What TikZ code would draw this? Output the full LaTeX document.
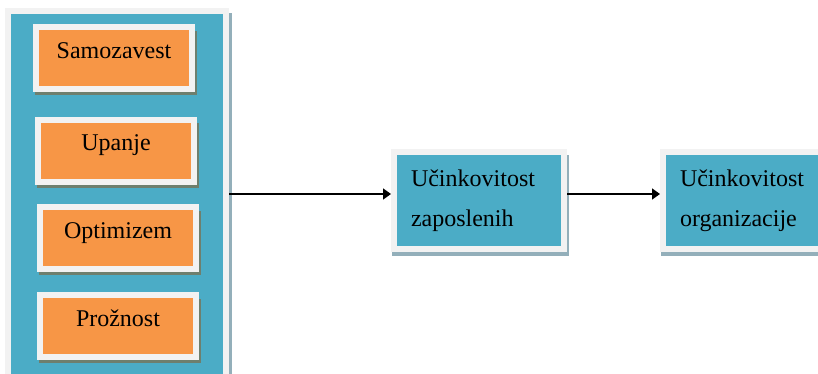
\documentclass[tikz,border=0pt]{standalone}
\usepackage{fontspec}
\setmainfont{Liberation Serif}
\usetikzlibrary{shadows,arrows.meta}

\definecolor{boxblue}{HTML}{4BACC6}
\definecolor{boxorange}{HTML}{F79646}
\definecolor{framegray}{HTML}{F2F2F2}
\definecolor{shadowgreen}{HTML}{6E7F6E}
\definecolor{shadowblue}{HTML}{93AFBA}

\begin{document}
\begin{tikzpicture}[x=1pt, y=-1pt,
    panel/.style = {draw=framegray, line width=6pt, fill=boxblue, minimum width=218pt, minimum height=389pt,
        drop shadow={shadow xshift=6pt, shadow yshift=-2pt, fill=shadowblue, opacity=1}},
    trait/.style = {draw=framegray, line width=6pt, fill=boxorange, minimum width=156pt, minimum height=62pt,
        font=\fontsize{24}{40}\selectfont, text height=16pt, text depth=16pt,
        drop shadow={shadow xshift=2pt, shadow yshift=-5pt, shadow scale=1.04, fill=shadowgreen, opacity=1}},
    outcome/.style = {draw=framegray, line width=6pt, fill=boxblue, minimum width=170pt, minimum height=97pt,
        font=\fontsize{24}{40}\selectfont, align=left, text width=136pt, inner xsep=17pt,
        drop shadow={shadow xshift=1.6pt, shadow yshift=-5pt, shadow scale=1.04, fill=shadowblue, opacity=1}},
    link/.style = {line width=1.5pt, -{Triangle[length=8pt, width=11pt]}}]

    \useasboundingbox (0,0) rectangle (818,373);
    \clip (0,0) rectangle (818,373);

    % Levi panel s štirimi lastnostmi
    \node[panel] (panel) at (117,205.5) {};
    \node[trait] (A) at (114,58) {Samozavest};
    \node[trait] (B) at (116,150.5) {Upanje};
    \node[trait] (C) at (118,238) {Optimizem};
    \node[trait] (D) at (118,326) {Pro\v{z}nost};

    % Učinkovitost
    \node[outcome] (E) at (479,200.5) {U\v{c}inkovitost\\zaposlenih};
    \node[outcome] (F) at (748,200.5) {U\v{c}inkovitost\\organizacije};

    % Povezave
    \draw[link] ([yshift=6.5pt]panel.east |- E.west) -- ([yshift=6.5pt]E.west);
    \draw[link] ([yshift=6.5pt]E.east) -- ([yshift=6.5pt]F.west);

\end{tikzpicture}
\end{document}
